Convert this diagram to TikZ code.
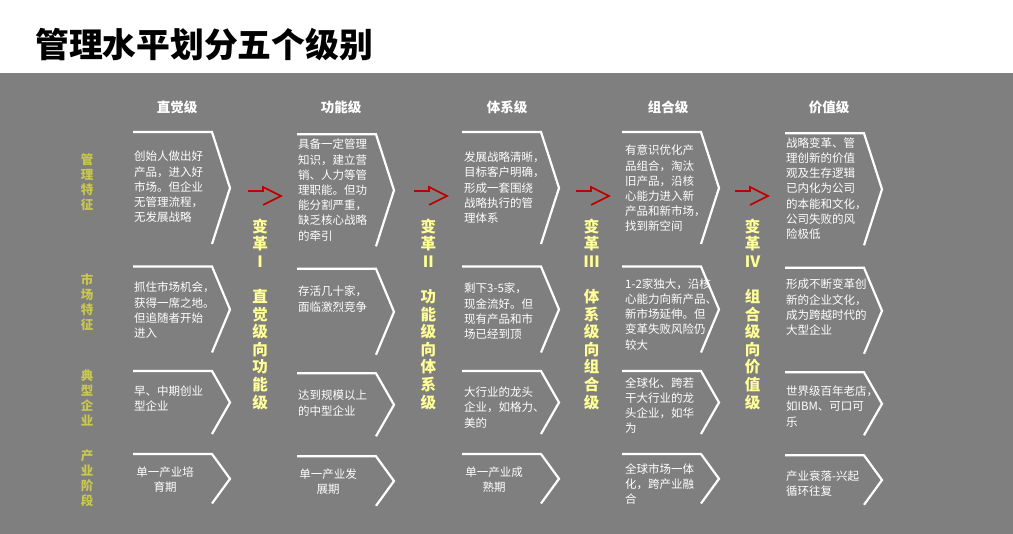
\documentclass[tikz,border=0pt]{standalone}
\usepackage{fontspec}
\newfontfamily\cjk{Noto Sans CJK SC}
\definecolor{bggray}{RGB}{127,127,127}
\definecolor{olivey}{RGB}{200,200,80}
\definecolor{paley}{RGB}{255,255,150}
\definecolor{arrred}{RGB}{192,0,0}
\begin{document}
\begin{tikzpicture}[x=1pt,y=-1pt,
 chev/.style={draw=white, line width=2.2pt, line join=miter},
 cell/.style={text=white, font=\cjk\fontsize{11.5}{15.2}\selectfont, align=left, anchor=north west, inner sep=0pt},
 cellc/.style={cell, align=center, anchor=north},
 head/.style={text=white, font=\cjk\bfseries\fontsize{13.5}{16}\selectfont, inner sep=0pt},
 rowlab/.style={text=olivey, font=\cjk\bfseries\fontsize{12.5}{15}\selectfont, align=center, anchor=north, inner sep=0pt},
 trans/.style={text=paley, font=\cjk\bfseries\fontsize{15.5}{17.6}\selectfont, align=center, anchor=north, inner sep=0pt},
 redarr/.style={draw=arrred, line width=1.6pt, line join=miter}]
\useasboundingbox (0,0) rectangle (1013,534);
\fill[white] (0,0) rectangle (1013,73);
\fill[bggray] (0,73) rectangle (1013,534);
\node[anchor=west, inner sep=0pt, font=\cjk\bfseries\fontsize{33.8}{36}\selectfont] (title) at (35,45) {管理水平划分五个级别};
% chevrons
\foreach \x/\dy in {133/0,297/2.3,462/0,622/0,785/1.3}{
 \foreach \t/\b in {132/244,266.5/352.5,371/434,454/503.5}{
  \draw[chev] (\x,\t+\dy) -- (\x+79,\t+\dy) -- (\x+97,{(\t+\b)/2+\dy}) -- (\x+79,\b+\dy);
 }}
% headers
\node[head] (h1) at (177,107) {直觉级};
\node[head] (h2) at (341,107) {功能级};
\node[head] (h3) at (507,107) {体系级};
\node[head] (h4) at (668,107) {组合级};
\node[head] (h5) at (829,107) {价值级};
% row labels
\node[rowlab] (r1) at (87,153) {管\\理\\特\\征};
\node[rowlab] (r2) at (87,273.5) {市\\场\\特\\征};
\node[rowlab] (r3) at (87,369.5) {典\\型\\企\\业};
\node[rowlab] (r4) at (87,449.5) {产\\业\\阶\\段};
% column 1
\node[cell] (c11) at (134,151) {创始人做出好\\产品，进入好\\市场。但企业\\无管理流程，\\无发展战略};
\node[cell] (c12) at (134,282) {抓住市场机会，\\获得一席之地。\\但追随者开始\\进入};
\node[cell] (c13) at (134,385.7) {早、中期创业\\型企业};
\node[cellc] (c14) at (165,466.7) {单一产业培\\育期};
% column 2
\node[cell] (c21) at (298,139) {具备一定管理\\知识，建立营\\销、人力等管\\理职能。但功\\能分割严重，\\缺乏核心战略\\的牵引};
\node[cell] (c22) at (298,286) {存活几十家，\\面临激烈竞争};
\node[cell] (c23) at (298,390) {达到规模以上\\的中型企业};
\node[cellc] (c24) at (328,468.3) {单一产业发\\展期};
% column 3
\node[cell] (c31) at (464,151.7) {发展战略清晰，\\目标客户明确，\\形成一套围绕\\战略执行的管\\理体系};
\node[cell] (c32) at (464,283) {剩下3-5家，\\现金流好。但\\现有产品和市\\场已经到顶};
\node[cell] (c33) at (464,386.7) {大行业的龙头\\企业，如格力、\\美的};
\node[cellc] (c34) at (494,466.7) {单一产业成\\熟期};
% column 4
\node[cell] (c41) at (625,145) {有意识优化产\\品组合，淘汰\\旧产品，沿核\\心能力进入新\\产品和新市场，\\找到新空间};
\node[cell] (c42) at (625,278.3) {1-2家独大，沿核\\心能力向新产品、\\新市场延伸。但\\变革失败风险仍\\较大};
\node[cell] (c43) at (625,377.3) {全球化、跨若\\干大行业的龙\\头企业，如华\\为};
\node[cell] (c44) at (625,463.3) {全球市场一体\\化，跨产业融\\合};
% column 5
\node[cell] (c51) at (786,137.3) {战略变革、管\\理创新的价值\\观及生存逻辑\\已内化为公司\\的本能和文化，\\公司失败的风\\险极低};
\node[cell] (c52) at (786,279) {形成不断变革创\\新的企业文化，\\成为跨越时代的\\大型企业};
\node[cell] (c53) at (786,385.7) {世界级百年老店，\\如IBM、可口可\\乐};
\node[cell] (c54) at (786,470.7) {产业衰落-兴起\\循环往复};
% transitions
\node[trans] (t1) at (260,218.5) {变\\革\\Ⅰ\\ \\直\\觉\\级\\向\\功\\能\\级};
\node[trans] (t2) at (428.3,218.5) {变\\革\\Ⅱ\\ \\功\\能\\级\\向\\体\\系\\级};
\node[trans] (t3) at (591.7,218.5) {变\\革\\Ⅲ\\ \\体\\系\\级\\向\\组\\合\\级};
\node[trans] (t4) at (752.7,218.5) {变\\革\\Ⅳ\\ \\组\\合\\级\\向\\价\\值\\级};
% red arrows
\foreach \a in {248,414,576,735}{
 \draw[redarr] (\a,191) -- (\a+15,191) -- (\a+15,187) -- (\a+33,196) -- (\a+15,205);
}
\end{tikzpicture}
\end{document}
